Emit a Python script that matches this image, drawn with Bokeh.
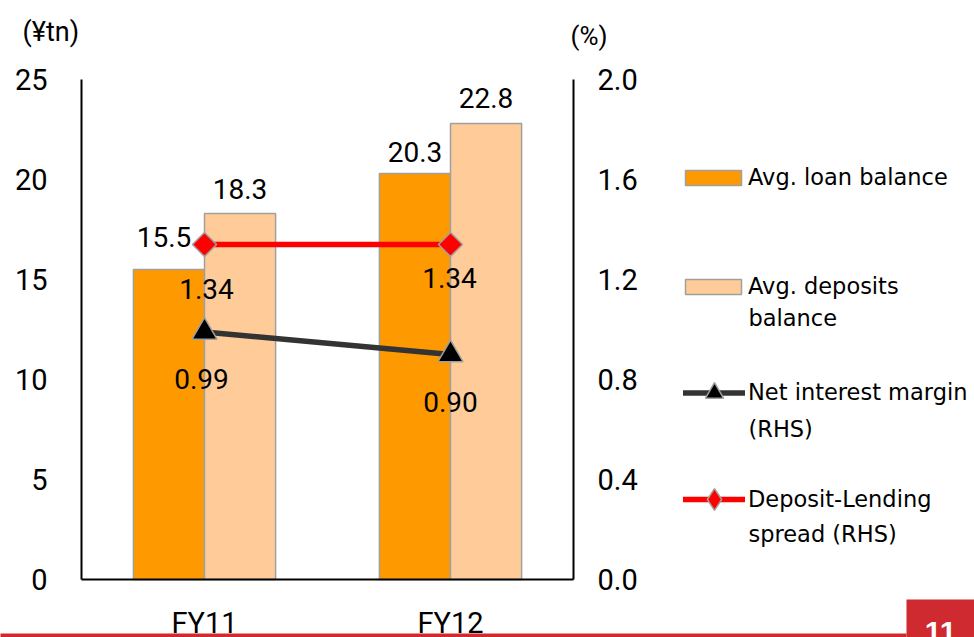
import numpy as np
from bokeh.plotting import figure
from bokeh.models import (Range1d, LinearAxis, FixedTicker, NumeralTickFormatter,
                          ColumnDataSource, LabelSet, Label, Legend, LegendItem,
                          BoxAnnotation)
from bokeh.core.properties import value
from bokeh.embed import file_html
from bokeh.resources import INLINE

# ---- data ----
categories = ["FY11", "FY12"]
loan_balance = [15.5, 20.3]            # ¥tn
deposit_balance = [18.3, 22.8]         # ¥tn
net_interest_margin = [0.99, 0.90]     # %
deposit_lending_spread = [1.34, 1.34]  # %
left_ticks = [0, 5, 10, 15, 20, 25]
right_ticks = [0.0, 0.4, 0.8, 1.2, 1.6, 2.0]
page_number = "11"

# ---- styling ----
LOAN = "#FF9900"
DEPOSIT = "#FFCC99"
EDGE = "#A0A0A0"
NIM_COLOR = "#333333"
SPREAD_COLOR = "#FF0000"
BRAND_RED = "#CE2A2F"
NUM_FONT = "Roboto"
LEG_FONT = "DejaVu Sans"
NUM_SIZE = "28px"
TICK_SIZE = "29px"
LEG_SIZE = "22.5px"

# canvas geometry (px): the data area sits inside a full-canvas frame
W, H = 974, 637
PLOT_L, PLOT_R, PLOT_T, PLOT_B = 81, 573, 79, 579

# label nudges in screen px (dx, dy); dy > 0 is upward
loan_nudge = [(-5, 33), (0, 22)]
deposit_nudge = [(0, 25), (0, 26)]
spread_nudge = [(2, -44), (-1, -33)]
nim_nudge = [(-3, -47), (0, -47)]

n_cat = len(categories)
bar_w = 0.289
xc = np.arange(n_cat) + 0.5

# ranges stretched so that the value axes land on the plot rectangle
px_x = (PLOT_R - PLOT_L) / n_cat
y_max, pct_max = left_ticks[-1], right_ticks[-1]
px_y = (PLOT_B - PLOT_T) / y_max
px_p = (PLOT_B - PLOT_T) / pct_max
x_range = Range1d(-PLOT_L / px_x, n_cat + (W - PLOT_R) / px_x)
y_range = Range1d(-(H - PLOT_B) / px_y, y_max + PLOT_T / px_y)
pct_range = Range1d(-(H - PLOT_B) / px_p, pct_max + PLOT_T / px_p)

p = figure(width=W, height=H, x_range=x_range, y_range=y_range,
           output_backend="svg", toolbar_location=None,
           min_border_left=0, min_border_right=0,
           min_border_top=0, min_border_bottom=0)
p.extra_y_ranges = {"pct": pct_range}
p.outline_line_color = None
p.xgrid.visible = False
p.ygrid.visible = False
p.background_fill_color = "white"
p.border_fill_color = "white"

# ---- footer band and page number (behind everything) ----
SCREEN = dict(left_units="screen", right_units="screen",
              bottom_units="screen", top_units="screen")
p.add_layout(BoxAnnotation(left=-2, right=906, bottom=-5, top=H - 633,
                           fill_color=BRAND_RED, fill_alpha=1, line_color=None,
                           level="underlay", **SCREEN))
p.add_layout(BoxAnnotation(left=906, right=W + 5, bottom=-5, top=H - 599,
                           fill_color=BRAND_RED, fill_alpha=1, line_color=None,
                           level="underlay", **SCREEN))

# ---- bars ----
loan_src = ColumnDataSource(dict(
    x=xc - bar_w / 2, v=loan_balance, t=[f"{v:.1f}" for v in loan_balance],
    dx=[n[0] for n in loan_nudge], dy=[n[1] for n in loan_nudge]))
dep_src = ColumnDataSource(dict(
    x=xc + bar_w / 2, v=deposit_balance, t=[f"{v:.1f}" for v in deposit_balance],
    dx=[n[0] for n in deposit_nudge], dy=[n[1] for n in deposit_nudge]))

loan_r = p.vbar(x="x", top="v", bottom=0, width=bar_w, source=loan_src,
                fill_color=LOAN, line_color=EDGE, line_width=1.5)
dep_r = p.vbar(x="x", top="v", bottom=0, width=bar_w, source=dep_src,
               fill_color=DEPOSIT, line_color=EDGE, line_width=1.5)

# ---- lines on the right axis ----
nim_src = ColumnDataSource(dict(
    x=xc, v=net_interest_margin, t=[f"{v:.2f}" for v in net_interest_margin],
    dx=[n[0] for n in nim_nudge], dy=[n[1] for n in nim_nudge]))
spr_src = ColumnDataSource(dict(
    x=xc, v=deposit_lending_spread, t=[f"{v:.2f}" for v in deposit_lending_spread],
    dx=[n[0] for n in spread_nudge], dy=[n[1] for n in spread_nudge]))

nim_line = p.line(x="x", y="v", source=nim_src, y_range_name="pct",
                  line_color=NIM_COLOR, line_width=5.5, line_cap="round")
spr_line = p.line(x="x", y="v", source=spr_src, y_range_name="pct",
                  line_color=SPREAD_COLOR, line_width=5.5, line_cap="round")
# zero-size diamonds: invisible in the plot, they give the legend its swatch
spr_key = p.scatter(x="x", y="v", source=spr_src, y_range_name="pct",
                    marker="diamond", size=0,
                    fill_color=SPREAD_COLOR, line_color=EDGE, line_width=1.5)
nim_pts = p.scatter(x="x", y="v", source=nim_src, y_range_name="pct",
                    marker="triangle", size=25, fill_color="black",
                    line_color=EDGE, line_width=1.5)
spr_pts = p.scatter(x="x", y="v", source=spr_src, y_range_name="pct",
                    marker="square", angle=np.pi / 4, size=17,
                    fill_color=SPREAD_COLOR, line_color=EDGE, line_width=1.5)

# ---- value labels ----
def add_labels(src, y_range_name="default"):
    p.add_layout(LabelSet(x="x", y="v", text="t", source=src,
                          x_offset="dx", y_offset="dy",
                          y_range_name=y_range_name,
                          text_align="center", text_baseline="middle",
                          text_font=value(NUM_FONT), text_font_size=value(NUM_SIZE),
                          text_color="black"))

add_labels(loan_src)
add_labels(dep_src)
add_labels(spr_src, "pct")
add_labels(nim_src, "pct")

# ---- axes, pinned to the plot rectangle ----
p.xaxis.ticker = FixedTicker(ticks=list(xc))
p.xaxis.major_label_overrides = {float(v): c for v, c in zip(xc, categories)}
p.xaxis.fixed_location = 0
p.xaxis.bounds = (0, n_cat)

p.yaxis.ticker = FixedTicker(ticks=left_ticks)
p.yaxis.fixed_location = 0
p.yaxis.bounds = (0, y_max)

right_axis = LinearAxis(y_range_name="pct", ticker=FixedTicker(ticks=right_ticks),
                        formatter=NumeralTickFormatter(format="0.0"),
                        fixed_location=n_cat, bounds=(0, pct_max))
p.add_layout(right_axis, "right")

for ax, standoff in [(p.xaxis[0], 26), (p.yaxis[0], 34), (right_axis, 24)]:
    ax.axis_line_color = "black"
    ax.axis_line_width = 2
    ax.major_tick_line_color = None
    ax.minor_tick_line_color = None
    ax.major_tick_out = 0
    ax.major_tick_in = 0
    ax.major_label_standoff = standoff
    ax.major_label_text_font = NUM_FONT
    ax.major_label_text_font_size = TICK_SIZE
    ax.major_label_text_color = "black"

# unit captions
p.add_layout(Label(x=22, y=H - 31, x_units="screen", y_units="screen", text="(¥tn)",
                   text_font=NUM_FONT, text_font_size="27px", text_color="black",
                   text_align="left", text_baseline="middle"))
p.add_layout(Label(x=570, y=H - 35, x_units="screen", y_units="screen", text="(%)",
                   text_font=NUM_FONT, text_font_size="26px", text_color="black",
                   text_align="left", text_baseline="middle"))

# ---- legends ----
def make_legend(items, loc, gw, gh, spacing, standoff):
    lg = Legend(items=items, location=loc, orientation="vertical",
                glyph_width=gw, glyph_height=gh, spacing=spacing,
                label_standoff=standoff, padding=0, margin=0,
                border_line_color=None, background_fill_alpha=0,
                label_text_font=LEG_FONT, label_text_font_size=LEG_SIZE,
                label_text_color="black")
    p.add_layout(lg, "center")

make_legend([LegendItem(label="Avg. loan balance", renderers=[loan_r]),
             LegendItem(label="Avg. deposits", renderers=[dep_r])],
            (678, H - 299), 70, 19, 83, 0)
make_legend([LegendItem(label="Net interest margin", renderers=[nim_line, nim_pts])],
            (683, H - 414.5), 62, 45, 0, 3)
make_legend([LegendItem(label="Deposit-Lending", renderers=[spr_line, spr_key])],
            (683, H - 526), 62, 54, 0, 3)

for txt, yy in [("balance", 317), ("(RHS)", 428), ("spread (RHS)", 533)]:
    p.add_layout(Label(x=748, y=H - yy, x_units="screen", y_units="screen", text=txt,
                       text_font=LEG_FONT, text_font_size=LEG_SIZE, text_color="black",
                       text_align="left", text_baseline="middle"))

p.add_layout(Label(x=940, y=H - 621, x_units="screen", y_units="screen", text=page_number,
                   text_font="Liberation Sans", text_font_style="bold",
                   text_font_size="30px", text_color="white",
                   text_align="center", text_baseline="top"))

open("out.html", "w").write(file_html(p, INLINE))
